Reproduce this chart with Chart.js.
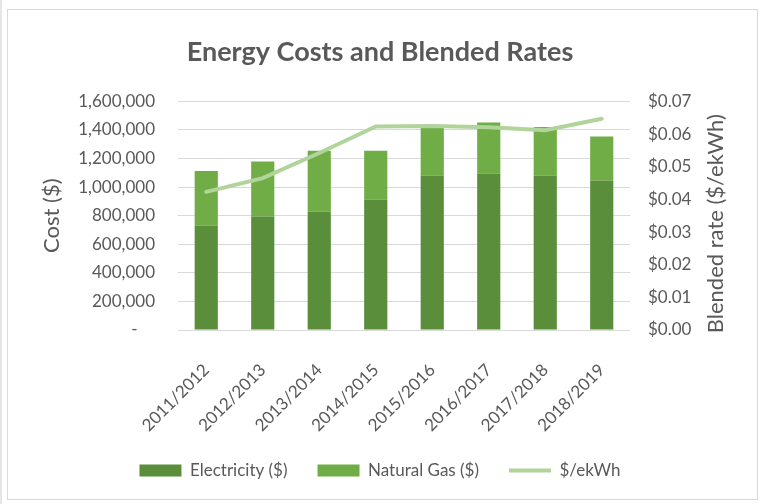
<!DOCTYPE html>
<html>
<head>
<meta charset="utf-8">
<title>Energy Costs and Blended Rates</title>
<script src="https://cdn.jsdelivr.net/npm/chart.js@4/dist/chart.umd.min.js"></script>
<style>
  html, body { margin: 0; padding: 0; background: #fff; }
  #wrap { position: relative; width: 760px; height: 504px; }
  #frame {
    position: absolute; left: 7px; top: 9px; width: 749px; height: 489px;
    border: 1px solid #d9d9d9; pointer-events: none;
  }
  #edge { position: absolute; left: 0; top: 0; width: 2px; height: 504px; background: #e6e6e6; }
</style>
</head>
<body>
<div id="wrap">
  <canvas id="energyChart" width="760" height="504"></canvas>
  <div id="frame"></div>
  <div id="edge"></div>
</div>
<script>
'use strict';

// ------------------ data ------------------
const years = ['2011/2012', '2012/2013', '2013/2014', '2014/2015', '2015/2016', '2016/2017', '2017/2018', '2018/2019'];
const electricityCost = [729000, 794000, 827000, 911000, 1079000, 1093000, 1079000, 1046000];
const naturalGasCost = [383000, 386000, 427000, 343000, 334000, 360000, 341000, 309000];
const blendedRate = [0.0423, 0.0465, 0.0542, 0.0623, 0.0625, 0.0621, 0.0612, 0.0647];

const costTicks = { min: 0, max: 1600000, step: 200000 };
const rateTicks = { min: 0, max: 0.07, step: 0.01 };
const rateAxisTitle = 'Blended rate ($/ekWh)';

// ------------------ styles ------------------
const textGrey = '#595959';
const fontName = 'Lato, "Open Sans", sans-serif';

function costLabel(value) {
  if (value === 0) {
    return '-    ';
  }
  return value.toLocaleString('en-US');
}

function rateLabel(value) {
  return '$' + value.toFixed(2);
}

// right axis title reads bottom-to-top like the left one
const rightTitlePlugin = {
  id: 'rightTitle',
  afterDraw(chart) {
    const scale = chart.scales.y1;
    const area = chart.chartArea;
    const c = chart.ctx;
    c.save();
    c.translate(scale.right - 44, (area.top + area.bottom) / 2 + 8);
    c.rotate(-Math.PI / 2);
    c.fillStyle = textGrey;
    c.font = '22px ' + fontName;
    c.textAlign = 'center';
    c.textBaseline = 'middle';
    c.fillText(rateAxisTitle, 0, 0);
    c.restore();
  }
};

// ------------------ chart ------------------
const ctx = document.getElementById('energyChart').getContext('2d');
const energyChart = new Chart(ctx, {
  type: 'bar',
  data: {
    labels: years,
    datasets: [{
      label: 'Electricity ($)',
      data: electricityCost,
      backgroundColor: '#5A8E3A',
      borderWidth: 0,
      yAxisID: 'y',
      pointStyle: 'rect',
      order: 1
    }, {
      label: 'Natural Gas ($)',
      data: naturalGasCost,
      backgroundColor: '#70AD47',
      borderWidth: 0,
      yAxisID: 'y',
      pointStyle: 'rect',
      order: 1
    }, {
      type: 'line',
      label: '$/ekWh',
      data: blendedRate,
      borderColor: '#B1D49B',
      backgroundColor: '#B1D49B',
      borderWidth: 4,
      borderCapStyle: 'round',
      pointRadius: 0,
      tension: 0,
      yAxisID: 'y1',
      pointStyle: 'line',
      order: 0
    }]
  },
  options: {
    responsive: false,
    animation: false,
    devicePixelRatio: 1,
    layout: { padding: { left: 0, right: 0, top: 0, bottom: 15 } },
    datasets: {
      bar: { categoryPercentage: 0.82, barPercentage: 0.5 }
    },
    plugins: {
      title: {
        display: true,
        text: 'Energy Costs and Blended Rates',
        color: textGrey,
        font: { family: fontName, size: 27, weight: 'bold' },
        padding: { top: 36, bottom: 33 }
      },
      legend: {
        position: 'bottom',
        labels: {
          usePointStyle: true,
          pointStyleWidth: 42,
          boxHeight: 12,
          color: textGrey,
          padding: 30,
          font: { family: fontName, size: 17 },
          sort: (a, b) => a.datasetIndex - b.datasetIndex
        }
      },
      tooltip: { enabled: false }
    },
    scales: {
      x: {
        stacked: true,
        grid: { display: false },
        border: { display: false },
        ticks: {
          color: textGrey,
          font: { family: fontName, size: 17 },
          minRotation: 45,
          maxRotation: 45,
          padding: 22
        },
        afterFit: function(scale) { scale.height = 102; }
      },
      y: {
        stacked: true,
        position: 'left',
        min: costTicks.min,
        max: costTicks.max,
        grid: { color: '#d9d9d9', drawTicks: false },
        border: { display: false },
        ticks: {
          stepSize: costTicks.step,
          color: textGrey,
          padding: 23,
          font: { family: fontName, size: 17 },
          callback: costLabel
        },
        title: {
          display: true,
          text: 'Cost ($)',
          color: textGrey,
          font: { family: fontName, size: 22 },
          padding: { top: 39, bottom: 0 }
        },
        afterFit: function(scale) { scale.width = 178; }
      },
      y1: {
        position: 'right',
        min: rateTicks.min,
        max: rateTicks.max,
        grid: { display: false, drawTicks: false },
        border: { display: false },
        ticks: {
          stepSize: rateTicks.step,
          color: textGrey,
          padding: 18,
          font: { family: fontName, size: 17 },
          callback: rateLabel
        },
        afterFit: function(scale) { scale.width = 130; }
      }
    }
  },
  plugins: [rightTitlePlugin]
});
</script>
</body>
</html>
